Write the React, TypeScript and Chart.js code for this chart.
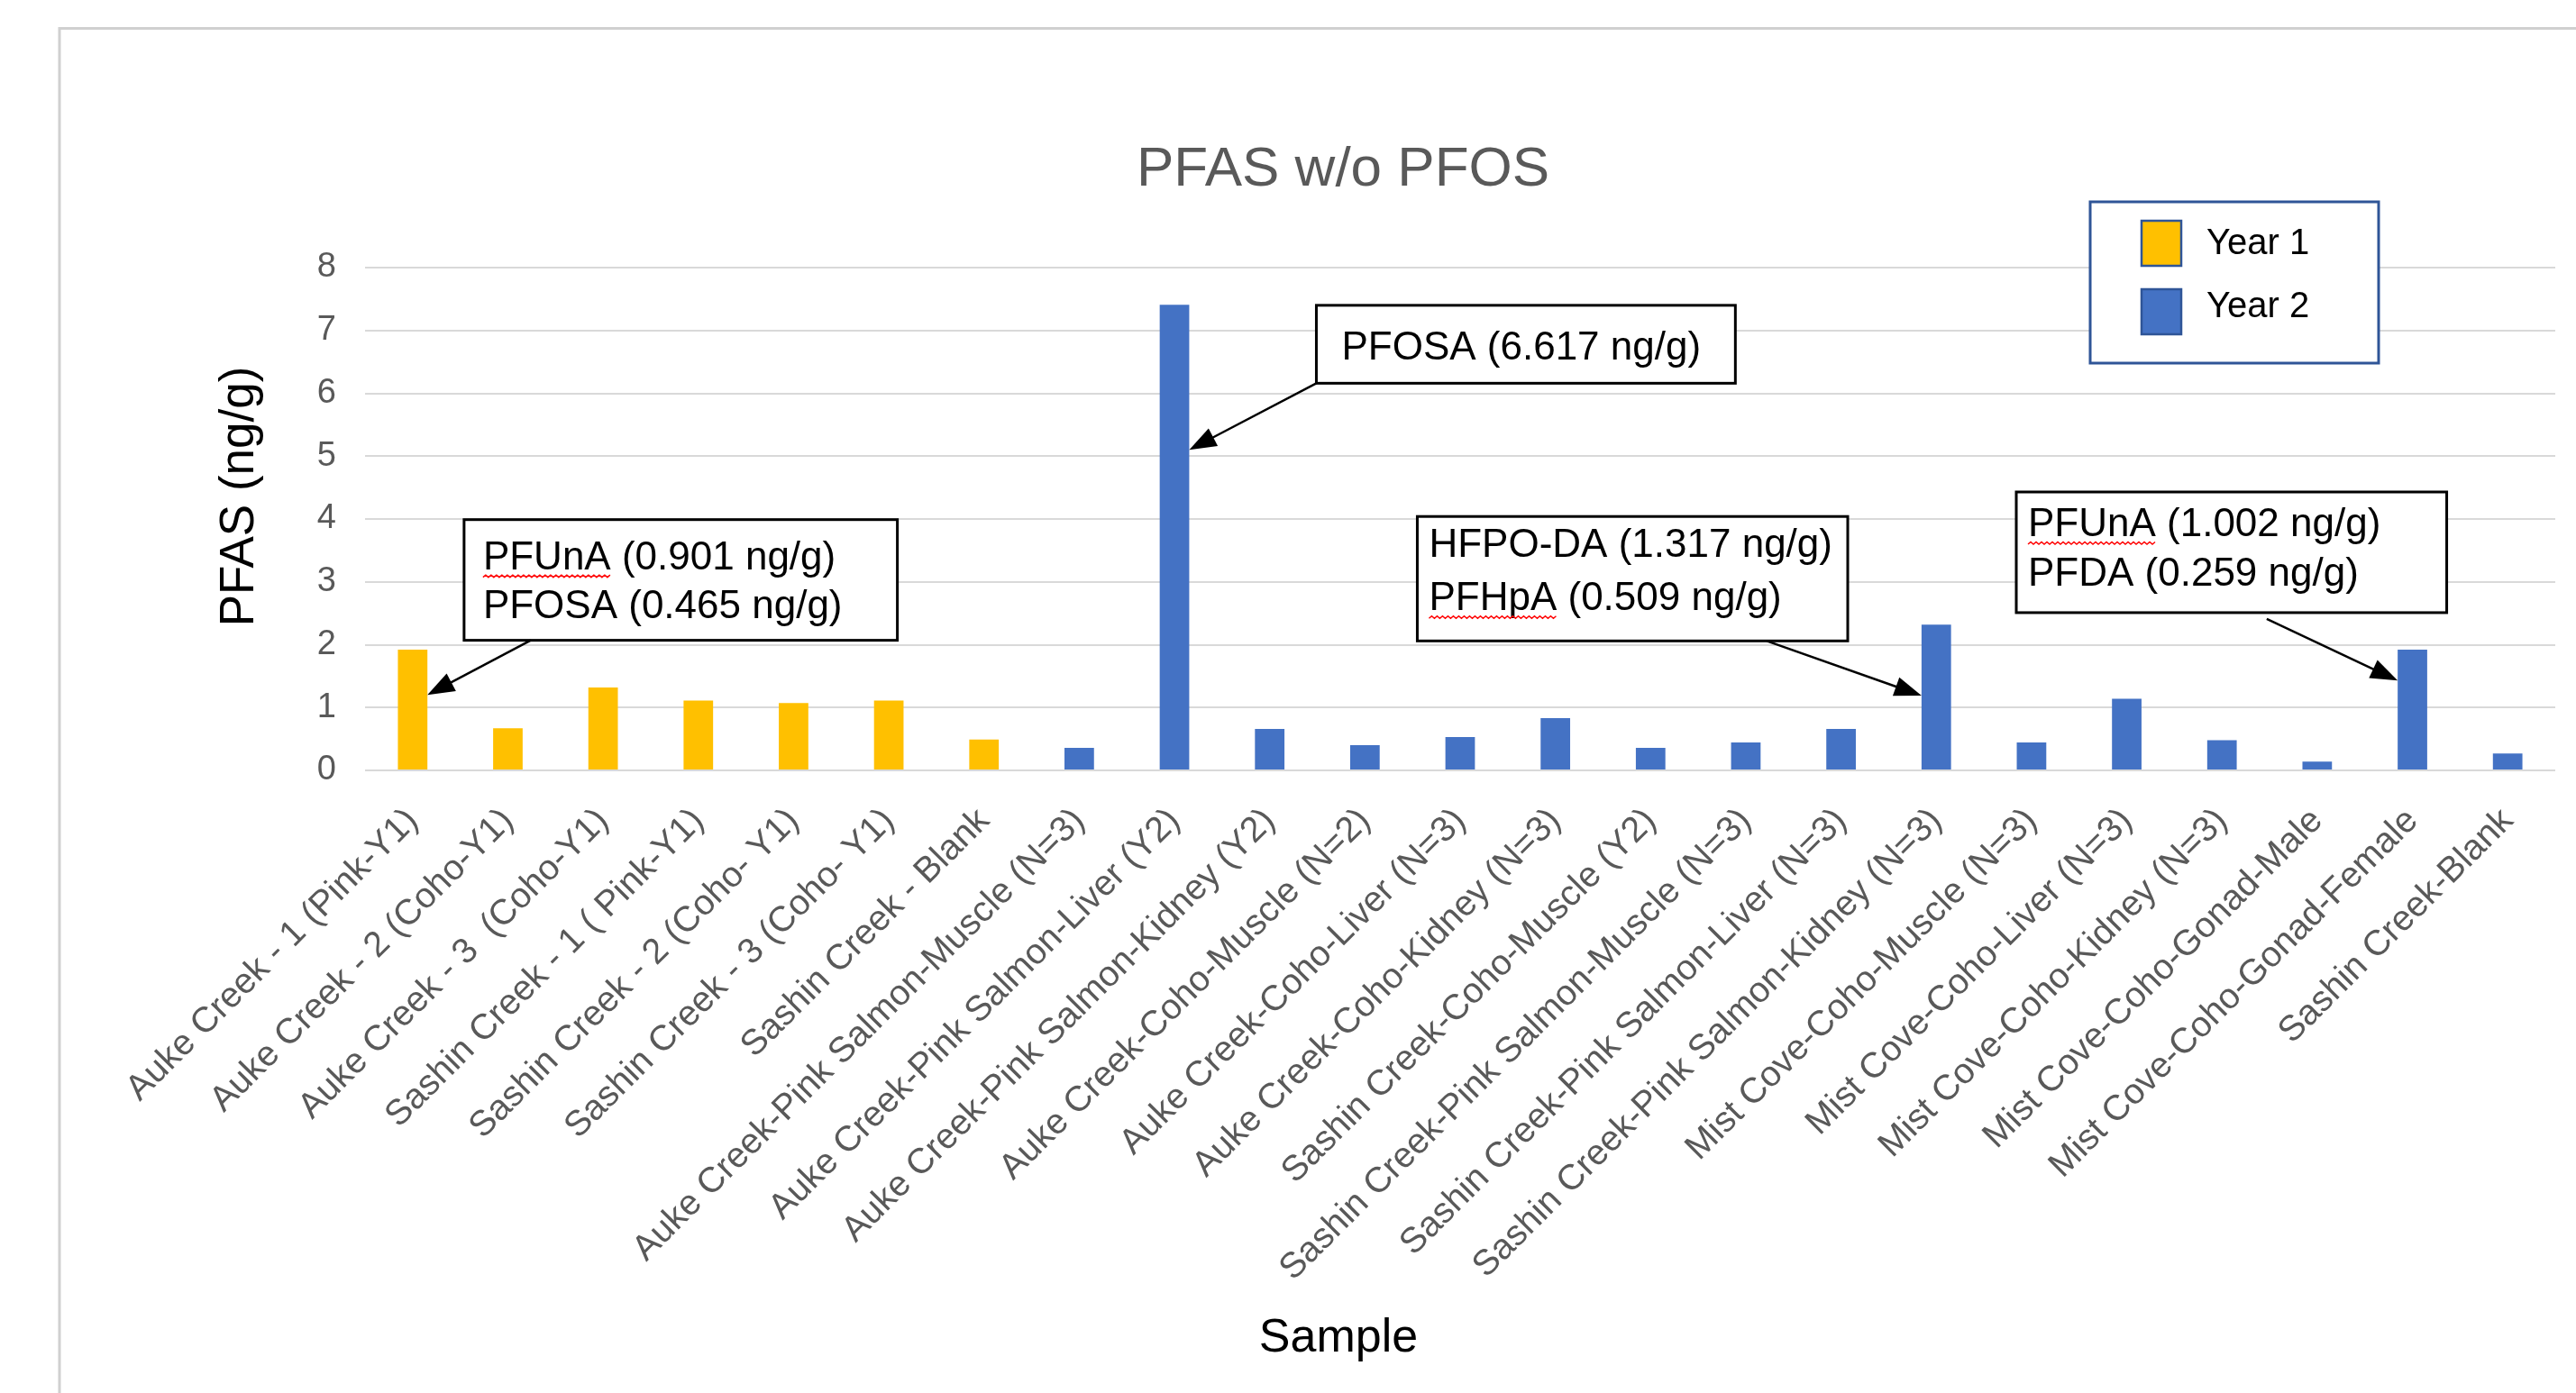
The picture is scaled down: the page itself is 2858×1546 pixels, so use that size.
import React, { useEffect, useRef } from "react";
import { Chart, registerables } from "chart.js";

Chart.register(...registerables);

// ---------------- DATA ----------------
const categories: string[] = [
  "Auke Creek - 1 (Pink-Y1)",
  "Auke Creek - 2 (Coho-Y1)",
  "Auke Creek - 3  (Coho-Y1)",
  "Sashin Creek - 1 ( Pink-Y1)",
  "Sashin Creek - 2 (Coho- Y1)",
  "Sashin Creek - 3 (Coho- Y1)",
  "Sashin Creek - Blank",
  "Auke Creek-Pink Salmon-Muscle (N=3)",
  "Auke Creek-Pink Salmon-Liver (Y2)",
  "Auke Creek-Pink Salmon-Kidney (Y2)",
  "Auke Creek-Coho-Muscle (N=2)",
  "Auke Creek-Coho-Liver (N=3)",
  "Auke Creek-Coho-Kidney (N=3)",
  "Sashin Creek-Coho-Muscle (Y2)",
  "Sashin Creek-Pink Salmon-Muscle (N=3)",
  "Sashin Creek-Pink Salmon-Liver (N=3)",
  "Sashin Creek-Pink Salmon-Kidney (N=3)",
  "Mist Cove-Coho-Muscle (N=3)",
  "Mist Cove-Coho-Liver (N=3)",
  "Mist Cove-Coho-Kidney (N=3)",
  "Mist Cove-Coho-Gonad-Male",
  "Mist Cove-Coho-Gonad-Female",
  "Sashin Creek-Blank",
];

// Year 1 samples: first 7 categories
const year1Values: number[] = [1.92, 0.67, 1.32, 1.11, 1.07, 1.11, 0.49];
// Year 2 samples: remaining 16 categories
const year2Values: number[] = [
  0.36, 7.41, 0.66, 0.4, 0.53, 0.83, 0.36, 0.445, 0.66, 2.32, 0.445, 1.14, 0.48, 0.14, 1.92, 0.27,
];

const seriesNames: string[] = ["Year 1", "Year 2"];
const yMin = 0;
const yMax = 8;
const yStep = 1;

const chartTitle = "PFAS w/o PFOS";
const yAxisTitle = "PFAS (ng/g)";
const xAxisTitle = "Sample";

const calloutTexts: string[][] = [
  ["PFUnA (0.901 ng/g)", "PFOSA (0.465 ng/g)"],
  ["PFOSA (6.617 ng/g)"],
  ["HFPO-DA (1.317 ng/g)", "PFHpA (0.509 ng/g)"],
  ["PFUnA (1.002 ng/g)", "PFDA (0.259 ng/g)"],
];
const calloutTargets: number[] = [0, 8, 16, 21];

// ---------------- STYLE / LAYOUT ----------------
const FONT = '"Liberation Sans", Arial, Helvetica, sans-serif';
const COLORS = {
  year1: "#FFC000",
  year2: "#4472C4",
  grid: "#D9D9D9",
  tick: "#595959",
  title: "#595959",
  axisTitle: "#000000",
  legendBorder: "#2F5597",
  frame: "#D0D0D0",
};
const L = {
  W: 2858,
  H: 1546,
  plotTop: 297,
  plotBottom: 855,
  plotLeft: 405,
  plotRight: 2835,
};

// callout geometry in data space (x = fractional category index, y = value)
const CALLOUTS = [
  { x0: 0.54, x1: 5.09, yTop: 3.99, yBottom: 2.07, padX: 21, baselines: [55, 109], squiggle: 0, sx: 1.24, sy: 2.07, side: 1, tip: 1.2 },
  { x0: 9.49, x1: 13.89, yTop: 7.4, yBottom: 6.16, padX: 28, baselines: [60], squiggle: -1, sx: 9.49, sy: 6.16, side: 1, tip: 5.1 },
  { x0: 10.55, x1: 15.07, yTop: 4.04, yBottom: 2.06, padX: 13, baselines: [45, 104], squiggle: 1, sx: 14.22, sy: 2.06, side: -1, tip: 1.19 },
  { x0: 16.84, x1: 21.36, yTop: 4.43, yBottom: 2.51, padX: 13, baselines: [49, 104], squiggle: 0, sx: 19.47, sy: 2.41, side: -1, tip: 1.43 },
];

const LEGEND = { x: 2319, y: 224, w: 320, h: 179, swX: 2376, swW: 44, swH: 50, rows: [245, 321], textX: 2448, baselines: [282, 352] };

function drawArrow(ctx: CanvasRenderingContext2D, x0: number, y0: number, x1: number, y1: number) {
  const dx = x1 - x0;
  const dy = y1 - y0;
  const len = Math.hypot(dx, dy);
  const ux = dx / len;
  const uy = dy / len;
  const head = 30;
  const half = 11;
  ctx.save();
  ctx.strokeStyle = "#000";
  ctx.fillStyle = "#000";
  ctx.lineWidth = 2.5;
  ctx.beginPath();
  ctx.moveTo(x0, y0);
  ctx.lineTo(x1 - ux * head * 0.9, y1 - uy * head * 0.9);
  ctx.stroke();
  ctx.beginPath();
  ctx.moveTo(x1, y1);
  ctx.lineTo(x1 - ux * head - uy * half, y1 - uy * head + ux * half);
  ctx.lineTo(x1 - ux * head + uy * half, y1 - uy * head - ux * half);
  ctx.closePath();
  ctx.fill();
  ctx.restore();
}

function drawSquiggle(ctx: CanvasRenderingContext2D, x0: number, x1: number, y: number) {
  ctx.save();
  ctx.strokeStyle = "#FF0000";
  ctx.lineWidth = 1.5;
  ctx.beginPath();
  ctx.moveTo(x0, y);
  let i = 1;
  for (let x = x0 + 3; x <= x1; x += 3, i++) {
    ctx.lineTo(x, i % 2 ? y - 2.5 : y);
  }
  ctx.stroke();
  ctx.restore();
}

const decorPlugin = {
  id: "decor",
  beforeDraw(chart: any) {
    const ctx: CanvasRenderingContext2D = chart.ctx;
    ctx.save();
    ctx.fillStyle = "#FFFFFF";
    ctx.fillRect(0, 0, chart.width, chart.height);
    ctx.strokeStyle = COLORS.frame;
    ctx.lineWidth = 3;
    ctx.beginPath();
    ctx.moveTo(66, chart.height + 10);
    ctx.lineTo(66, 31.5);
    ctx.lineTo(chart.width + 10, 31.5);
    ctx.stroke();
    ctx.restore();
  },
  afterDraw(chart: any) {
    const ctx: CanvasRenderingContext2D = chart.ctx;
    const xs = chart.scales.x;
    const ys = chart.scales.y;
    ctx.save();

    // Title
    ctx.fillStyle = COLORS.title;
    ctx.font = `62px ${FONT}`;
    ctx.textAlign = "center";
    ctx.textBaseline = "middle";
    ctx.fillText(chartTitle, 1490, 189);

    // X axis title
    ctx.fillStyle = COLORS.axisTitle;
    ctx.font = `52px ${FONT}`;
    ctx.fillText(xAxisTitle, 1485, 1486);

    // Y axis title
    ctx.save();
    ctx.translate(266, 551);
    ctx.rotate(-Math.PI / 2);
    ctx.font = `53px ${FONT}`;
    ctx.fillText(yAxisTitle, 0, 0);
    ctx.restore();

    // Legend
    ctx.fillStyle = "#FFFFFF";
    ctx.fillRect(LEGEND.x, LEGEND.y, LEGEND.w, LEGEND.h);
    ctx.strokeStyle = COLORS.legendBorder;
    ctx.lineWidth = 3;
    ctx.strokeRect(LEGEND.x, LEGEND.y, LEGEND.w, LEGEND.h);
    chart.data.datasets.forEach((ds: any, i: number) => {
      ctx.fillStyle = ds.backgroundColor;
      ctx.fillRect(LEGEND.swX, LEGEND.rows[i], LEGEND.swW, LEGEND.swH);
      ctx.strokeStyle = COLORS.legendBorder;
      ctx.lineWidth = 2.5;
      ctx.strokeRect(LEGEND.swX, LEGEND.rows[i], LEGEND.swW, LEGEND.swH);
      ctx.fillStyle = "#000";
      ctx.font = `40px ${FONT}`;
      ctx.textAlign = "left";
      ctx.textBaseline = "alphabetic";
      ctx.fillText(ds.label, LEGEND.textX, LEGEND.baselines[i]);
    });

    // Callouts
    CALLOUTS.forEach((c, k) => {
      const left = xs.getPixelForValue(c.x0);
      const right = xs.getPixelForValue(c.x1);
      const top = ys.getPixelForValue(c.yTop);
      const bottom = ys.getPixelForValue(c.yBottom);
      ctx.fillStyle = "#FFFFFF";
      ctx.fillRect(left, top, right - left, bottom - top);
      ctx.strokeStyle = "#000";
      ctx.lineWidth = 3;
      ctx.strokeRect(left, top, right - left, bottom - top);
      ctx.fillStyle = "#000";
      ctx.font = `44px ${FONT}`;
      ctx.textAlign = "left";
      ctx.textBaseline = "alphabetic";
      calloutTexts[k].forEach((line, j) => {
        const bx = left + c.padX;
        const by = top + c.baselines[j];
        ctx.fillText(line, bx, by);
        if (c.squiggle === j) {
          const word = line.split(" ")[0];
          const w = ctx.measureText(word).width;
          drawSquiggle(ctx, bx, bx + w, by + 9);
          ctx.fillStyle = "#000";
        }
      });
      // arrow to the bar
      const target = calloutTargets[k];
      const dsIndex = target < year1Values.length ? 0 : 1;
      const bar: any = chart.getDatasetMeta(dsIndex).data[target];
      const tipX = bar.x + (c.side * bar.width) / 2;
      const tipY = ys.getPixelForValue(c.tip);
      drawArrow(ctx, xs.getPixelForValue(c.sx), ys.getPixelForValue(c.sy), tipX, tipY);
    });

    ctx.restore();
  },
};

export default function App() {
  const canvasRef = useRef<HTMLCanvasElement | null>(null);

  useEffect(() => {
    if (!canvasRef.current) return;
    const y1Data = categories.map((_, i) => (i < year1Values.length ? year1Values[i] : null));
    const y2Data = categories.map((_, i) => (i >= year1Values.length ? year2Values[i - year1Values.length] : null));

    const chart = new Chart(canvasRef.current, {
      type: "bar",
      data: {
        labels: categories,
        datasets: [
          { label: seriesNames[0], data: y1Data, backgroundColor: COLORS.year1, borderWidth: 0 },
          { label: seriesNames[1], data: y2Data, backgroundColor: COLORS.year2, borderWidth: 0 },
        ],
      },
      options: {
        responsive: false,
        animation: false,
        devicePixelRatio: 1,
        layout: { padding: { top: L.plotTop, left: 0, right: L.W - L.plotRight, bottom: 0 } },
        datasets: { bar: { grouped: false, categoryPercentage: 1, barPercentage: 0.31 } as any },
        plugins: {
          legend: { display: false },
          title: { display: false },
          tooltip: { enabled: false },
        },
        scales: {
          x: {
            type: "category",
            offset: true,
            grid: { display: false, drawTicks: false },
            border: { display: false },
            ticks: {
              autoSkip: false,
              minRotation: 45,
              maxRotation: 45,
              padding: 33,
              color: COLORS.tick,
              font: { family: FONT, size: 39.5 },
            },
            afterFit: (scale: any) => {
              scale.height = L.H - L.plotBottom;
            },
          },
          y: {
            min: yMin,
            max: yMax,
            grid: { color: COLORS.grid, lineWidth: 2, drawTicks: false },
            border: { display: false },
            ticks: {
              stepSize: yStep,
              padding: 32,
              color: COLORS.tick,
              font: { family: FONT, size: 38 },
            },
            afterFit: (scale: any) => {
              scale.width = L.plotLeft;
            },
          },
        },
      },
      plugins: [decorPlugin],
    });
    return () => chart.destroy();
  }, []);

  return (
    <div style={{ position: "fixed", left: 0, top: 0, width: L.W, height: L.H, background: "#fff" }}>
      <canvas ref={canvasRef} width={L.W} height={L.H} style={{ display: "block", width: L.W, height: L.H }} />
    </div>
  );
}
